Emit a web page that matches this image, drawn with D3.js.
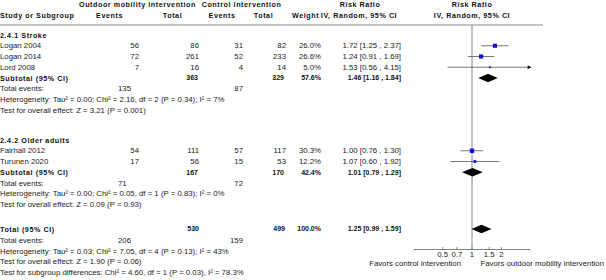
<!DOCTYPE html>
<html lang="en">
<head>
    <meta charset="UTF-8">
    <title>Forest plot</title>
    <script src="https://d3js.org/d3.v7.min.js"></script>
    <style>
        body { margin: 0; background: #fff; }
        svg text { font-family: "Liberation Sans", Arial, sans-serif; font-size: 7.8px; fill: #222; }
        svg text.b { font-weight: bold; letter-spacing: 0.55px; font-size: 7.2px; fill: #111; }
        svg text.bn { font-weight: bold; font-size: 7px; fill: #111; }
    </style>
</head>
<body>
<div id="chart"></div>
<script>
    // studies
    const studies = ["Logan 2004", "Logan 2014", "Lord 2008", "Fairhall 2012", "Turunen 2020"];
    const studyGroup = [0, 0, 0, 1, 1];
    const expEvents = [56, 72, 7, 54, 17];
    const expTotal = [86, 261, 16, 111, 56];
    const ctrlEvents = [31, 52, 4, 57, 15];
    const ctrlTotal = [82, 233, 14, 117, 53];
    const weights = [26.0, 26.6, 5.0, 30.3, 12.2];
    const rr = [1.72, 1.24, 1.53, 1.00, 1.07];
    const rrLo = [1.25, 0.91, 0.56, 0.76, 0.60];
    const rrHi = [2.37, 1.69, 4.15, 1.30, 1.92];

    // subgroups
    const groups = ["2.4.1 Stroke", "2.4.2 Older adults"];
    const subExpTotal = [363, 167];
    const subCtrlTotal = [329, 170];
    const subWeight = [57.6, 42.4];
    const subRR = [1.46, 1.01];
    const subLo = [1.16, 0.79];
    const subHi = [1.84, 1.29];
    const subExpEvents = [135, 71];
    const subCtrlEvents = [87, 72];
    const subHet = [
        ["0.00", "2.16", 2, "0.34", "7%"],
        ["0.00", "0.05", 1, "0.83", "0%"]
    ];
    const subEffect = [["3.21", "0.001"], ["0.09", "0.93"]];

    // overall
    const totExpTotal = 530, totCtrlTotal = 499, totWeight = 100.0;
    const totRR = 1.25, totLo = 0.99, totHi = 1.59;
    const totExpEvents = 206, totCtrlEvents = 159;
    const totHet = ["0.03", "7.05", 4, "0.13", "43%"];
    const totEffect = ["1.90", "0.06"];
    const subgroupDiff = ["4.60", 1, "0.03", "78.3%"];

    const ticks = [0.5, 0.7, 1, 1.5, 2];

    const W = 606, H = 280;
    const svg = d3.select("#chart").append("svg")
        .attr("width", W).attr("height", H);

    const x = d3.scaleLog().domain([0.25, 4]).range([413.4, 530.6]);
    const fmt2 = d3.format(".2f");
    const ciText = (m, l, h) => `${fmt2(m)} [${fmt2(l)} , ${fmt2(h)}]`;
    const pct = d3.format(".1f");

    const col = { study: 0, expEv: 139, expEvL: 118, expTot: 199, ctrlEv: 243, ctrlTot: 286, weight: 321, ci: 401 };

    function txt(xp, yp, s, anchor, cls) {
        const t = svg.append("text")
            .attr("x", xp).attr("y", yp).attr("dy", "0.35em")
            .attr("text-anchor", anchor || "start")
            .text(s);
        if (cls) t.attr("class", cls);
        return t;
    }
    const het = h => `Heterogeneity: Tau² = ${h[0]}; Chi² = ${h[1]}, df = ${h[2]} (P = ${h[3]}); I² = ${h[4]}`;
    const eff = e => `Test for overall effect: Z = ${e[0]} (P = ${e[1]})`;

    // header
    txt(137.5, 4, "Outdoor mobility intervention", "middle", "b");
    txt(241.5, 4, "Control intervention", "middle", "b");
    txt(360, 4, "Risk Ratio", "middle", "b");
    txt(x(1), 4, "Risk Ratio", "middle", "b");
    txt(0, 15, "Study or Subgroup", "start", "b");
    txt(109.5, 15, "Events", "middle", "b");
    txt(172.5, 15, "Total", "middle", "b");
    txt(222, 15, "Events", "middle", "b");
    txt(263.5, 15, "Total", "middle", "b");
    txt(292, 15, "Weight", "start", "b");
    txt(359, 15, "IV, Random, 95% CI", "middle", "b");
    txt(x(1), 15, "IV, Random, 95% CI", "middle", "b");

    svg.append("line").attr("x1", 0).attr("x2", 543).attr("y1", 25).attr("y2", 25)
        .attr("stroke", "#888").attr("stroke-width", 1);

    const step = 10.75;
    const groupTop = [35, 140];
    const totalTop = 229;
    const axisY = 249.5;

    // reference line at RR = 1
    svg.append("line").attr("x1", x(1)).attr("x2", x(1)).attr("y1", 25).attr("y2", axisY)
        .attr("stroke", "#666").attr("stroke-width", 0.8);

    const marks = svg.append("g");

    function drawDiamond(yc, m, l, h) {
        const hh = 4.3;
        marks.append("path")
            .attr("d", `M${x(l)},${yc} L${x(m)},${yc - hh} L${x(h)},${yc} L${x(m)},${yc + hh} Z`)
            .attr("fill", "#000");
    }

    groups.forEach((g, gi) => {
        let y = groupTop[gi];
        txt(0, y, g, "start", "b");
        studies.forEach((s, i) => {
            if (studyGroup[i] !== gi) return;
            y += step;
            txt(col.study, y, s);
            txt(col.expEv, y, expEvents[i], "end");
            txt(col.expTot, y, expTotal[i], "end");
            txt(col.ctrlEv, y, ctrlEvents[i], "end");
            txt(col.ctrlTot, y, ctrlTotal[i], "end");
            txt(col.weight, y, pct(weights[i]) + "%", "end");
            txt(col.ci, y, ciText(rr[i], rrLo[i], rrHi[i]), "end");

            const hiX = Math.min(x(rrHi[i]), x.range()[1]);
            marks.append("line")
                .attr("x1", x(rrLo[i])).attr("x2", hiX)
                .attr("y1", y).attr("y2", y)
                .attr("stroke", "#555").attr("stroke-width", 0.8);
            if (rrHi[i] > x.domain()[1]) {
                marks.append("path")
                    .attr("d", `M${hiX + 1},${y} L${hiX - 3},${y - 2} L${hiX - 3},${y + 2} Z`)
                    .attr("fill", "#222");
            }
            const sz = 0.8 * Math.sqrt(weights[i]);
            marks.append("rect")
                .attr("x", x(rr[i]) - sz / 2).attr("y", y - sz / 2)
                .attr("width", sz).attr("height", sz)
                .attr("fill", "#1010d0");
        });
        y += step;
        txt(0, y, "Subtotal (95% CI)", "start", "b");
        txt(col.expTot - 1, y, subExpTotal[gi], "end", "bn");
        txt(col.ctrlTot - 2, y, subCtrlTotal[gi], "end", "bn");
        txt(col.weight, y, pct(subWeight[gi]) + "%", "end", "bn");
        txt(col.ci, y, ciText(subRR[gi], subLo[gi], subHi[gi]), "end", "bn");
        drawDiamond(y, subRR[gi], subLo[gi], subHi[gi]);
        y += step;
        txt(0, y, "Total events:");
        txt(col.expEvL, y, subExpEvents[gi]);
        txt(col.ctrlEv, y, subCtrlEvents[gi], "end");
        y += step;
        txt(0, y, het(subHet[gi]));
        y += step;
        txt(0, y, eff(subEffect[gi]));
    });

    let y = totalTop;
    txt(0, y, "Total (95% CI)", "start", "b");
    txt(col.expTot, y, totExpTotal, "end", "bn");
    txt(col.ctrlTot - 1, y, totCtrlTotal, "end", "bn");
    txt(col.weight, y, pct(totWeight) + "%", "end", "bn");
    txt(col.ci, y, ciText(totRR, totLo, totHi), "end", "bn");
    drawDiamond(y, totRR, totLo, totHi);
    y += 11.5;
    txt(0, y, "Total events:");
    txt(col.expEvL, y, totExpEvents);
    txt(col.ctrlEv, y, totCtrlEvents, "end");
    y += 10.5;
    txt(0, y, het(totHet));
    y += 10.5;
    txt(0, y, eff(totEffect));
    y += 10.5;
    txt(0, y, `Test for subgroup differences: Chi² = ${subgroupDiff[0]}, df = ${subgroupDiff[1]} (P = ${subgroupDiff[2]}), I² = ${subgroupDiff[3]}`);

    // axis
    const axis = svg.append("g").attr("transform", `translate(0,${axisY})`);
    axis.append("line").attr("x1", x.range()[0]).attr("x2", x.range()[1])
        .attr("stroke", "#666").attr("stroke-width", 0.8);
    axis.selectAll(".tk").data(ticks).enter().append("line")
        .attr("x1", d => x(d)).attr("x2", d => x(d))
        .attr("y1", -2.5).attr("y2", 0.5)
        .attr("stroke", "#666").attr("stroke-width", 0.8);
    axis.selectAll(".tl").data(ticks).enter().append("text")
        .attr("x", d => x(d)).attr("y", 5).attr("dy", "0.35em")
        .attr("text-anchor", "middle")
        .text(d => d);
    txt(461, axisY + 13.5, "Favors control intervention", "end");
    txt(604, axisY + 13.5, "Favors outdoor mobility intervention", "end");
</script>
</body>
</html>
